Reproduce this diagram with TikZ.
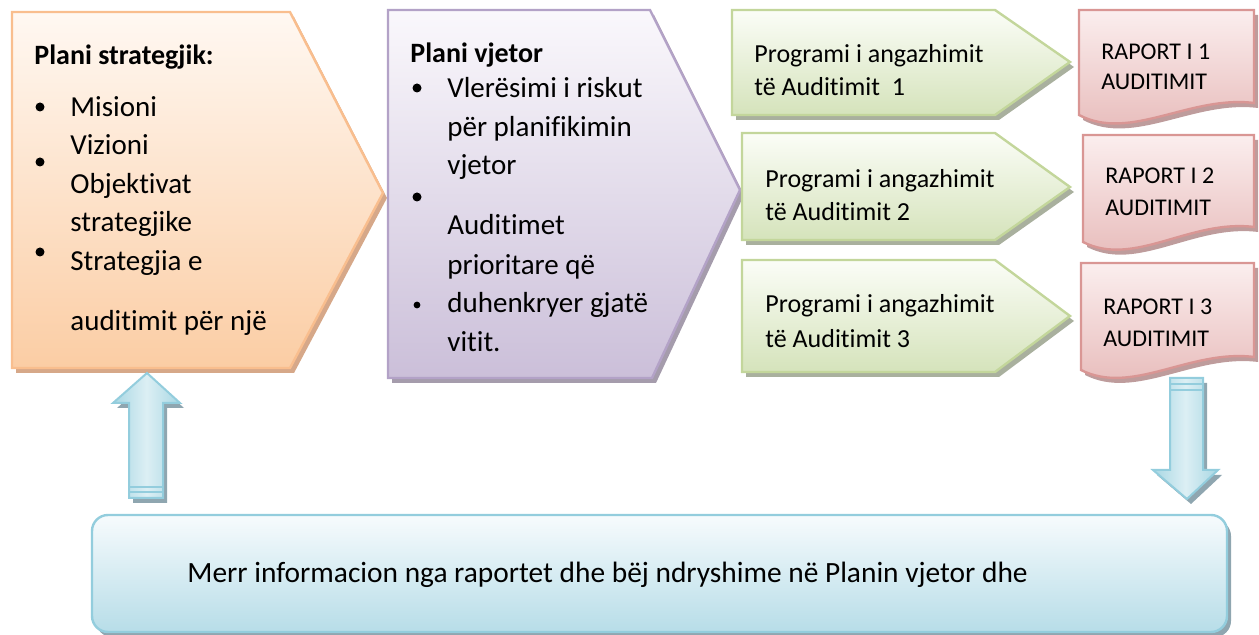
\documentclass[tikz,border=0pt]{standalone}
\usepackage{fontspec}
\setmainfont[Ligatures={NoCommon,NoRare,NoContextual}]{Carlito}
\definecolor{orTop}{HTML}{FFF8F2}
\definecolor{orBot}{HTML}{FBCDA4}
\definecolor{orLine}{HTML}{F9BE8E}
\definecolor{orSh}{HTML}{D6A889}
\definecolor{puTop}{HTML}{FAF8FC}
\definecolor{puBot}{HTML}{CBBFD9}
\definecolor{puLine}{HTML}{B3A2C7}
\definecolor{puSh}{HTML}{A59CAC}
\definecolor{grTop}{HTML}{FBFDF7}
\definecolor{grBot}{HTML}{D5E3BB}
\definecolor{grLine}{HTML}{C3D69B}
\definecolor{grSh}{HTML}{A9B09E}
\definecolor{rdTop}{HTML}{FBEEEE}
\definecolor{rdBot}{HTML}{E6B8B7}
\definecolor{rdLine}{HTML}{D99694}
\definecolor{rdSh}{HTML}{BE9C9C}
\definecolor{blTop}{HTML}{F7FBFD}
\definecolor{blBot}{HTML}{B7DDE8}
\definecolor{blLine}{HTML}{93CDDD}
\definecolor{blSh}{HTML}{8FA6B0}
\definecolor{arEdge}{HTML}{A8D7E3}
\definecolor{arMid}{HTML}{DCEFF4}
\begin{document}
\begin{tikzpicture}[x=0.5pt,y=-0.5pt,
  shape line/.style={line width=1.2pt, line join=miter},
  orng/.style={shape line, top color=orTop, bottom color=orBot, draw=orLine},
  purp/.style={shape line, top color=puTop, bottom color=puBot, draw=puLine},
  gren/.style={shape line, top color=grTop, bottom color=grBot, draw=grLine},
  redd/.style={shape line, top color=rdTop, bottom color=rdBot, draw=rdLine},
  blbox/.style={shape line, top color=blTop, bottom color=blBot, draw=blLine},
  blarrow/.style={line width=1pt, left color=arEdge, right color=arEdge, middle color=arMid, draw=blLine},
  shad/.style={fill=#1, draw=none, shift={(4,5)}},
  big/.style={anchor=base west, inner sep=0pt, font=\fontsize{14.5}{17}\selectfont},
  msgt/.style={anchor=base west, inner sep=0pt, font=\fontsize{14.7}{17}\selectfont},
  ttl/.style={anchor=base west, inner sep=0pt, font=\fontsize{14}{17}\selectfont\bfseries},
  grt/.style={anchor=base west, inner sep=0pt, font=\fontsize{13}{16}\selectfont},
  rdt/.style={anchor=base west, inner sep=0pt, font=\fontsize{12}{14}\selectfont},
  bul/.style={circle, fill=black, inner sep=0pt, minimum size=#1}
]
\useasboundingbox (0,0) rectangle (1259,635);

% ---------- orange pentagon ----------
\fill[shad=orSh] (12,12) -- (290,12) -- (383,193) -- (290,368) -- (12,368) -- cycle;
\path[orng] (12,12) -- (290,12) -- (383,193) -- (290,368) -- (12,368) -- cycle;
\node[ttl] (t1) at (34,65) {Plani strategjik:};
\node[bul=4.5pt] (ob1) at (40,107) {};
\node[bul=4.5pt] (ob2) at (40,162) {};
\node[bul=4.5pt] (ob3) at (40,252) {};
\node[big] (o1) at (70,117) {Misioni};
\node[big] (o2) at (70,155) {Vizioni};
\node[big] (o3) at (70,194) {Objektivat};
\node[big] (o4) at (70,232) {strategjike};
\node[big] (o5) at (70,271) {Strategjia e};
\node[big] (o6) at (70,331) {auditimit për një};

% ---------- purple pentagon ----------
\fill[shad=puSh] (388,10) -- (650,10) -- (740,190) -- (652,378) -- (388,378) -- cycle;
\path[purp] (388,10) -- (650,10) -- (740,190) -- (652,378) -- (388,378) -- cycle;
\node[ttl] (t2) at (410,63) {Plani vjetor};
\node[bul=4.5pt] (pb1) at (417,88) {};
\node[bul=4.5pt] (pb2) at (417,197) {};
\node[bul=3.4pt] (pb3) at (417,305) {};
\node[big] (p1) at (447,98) {Vlerësimi i riskut};
\node[big] (p2) at (447,137) {për planifikimin};
\node[big] (p3) at (447,175) {vjetor};
\node[big] (p4) at (447,235) {Auditimet};
\node[big] (p5) at (447,275) {prioritare që};
\node[big] (p6) at (447,313) {duhenkryer gjatë};
\node[big] (p7) at (447,352) {vitit.};

% ---------- green arrows ----------
\fill[shad=grSh] (732,10) -- (995,10) -- (1070,62) -- (995,115) -- (732,115) -- cycle;
\path[gren] (732,10) -- (995,10) -- (1070,62) -- (995,115) -- (732,115) -- cycle;
\fill[shad=grSh] (742,133) -- (995,133) -- (1070,187) -- (995,240) -- (742,240) -- cycle;
\path[gren] (742,133) -- (995,133) -- (1070,187) -- (995,240) -- (742,240) -- cycle;
\fill[shad=grSh] (742,260) -- (995,260) -- (1070,316) -- (995,372) -- (742,372) -- cycle;
\path[gren] (742,260) -- (995,260) -- (1070,316) -- (995,372) -- (742,372) -- cycle;
\node[grt] (g1a) at (754,63) {Programi i angazhimit};
\node[grt] (g1b) at (754,96) {të Auditimit\ \ 1};
\node[grt] (g2a) at (765,188) {Programi i angazhimit};
\node[grt] (g2b) at (765,221) {të Auditimit 2};
\node[grt] (g3a) at (765,313) {Programi i angazhimit};
\node[grt] (g3b) at (765,348) {të Auditimit 3};

% ---------- red documents ----------
\fill[shad=rdSh] (1079,10) -- (1254,10) -- (1254,103) .. controls (1190,95) and (1130,142) .. (1079,115) -- cycle;
\path[redd] (1079,10) -- (1254,10) -- (1254,103) .. controls (1190,95) and (1130,142) .. (1079,115) -- cycle;
\fill[shad=rdSh] (1083,135) -- (1254,135) -- (1254,227) .. controls (1190,219) and (1134,268) .. (1083,242) -- cycle;
\path[redd] (1083,135) -- (1254,135) -- (1254,227) .. controls (1190,219) and (1134,268) .. (1083,242) -- cycle;
\fill[shad=rdSh] (1081,263) -- (1254,263) -- (1254,357) .. controls (1190,349) and (1132,396) .. (1081,370) -- cycle;
\path[redd] (1081,263) -- (1254,263) -- (1254,357) .. controls (1190,349) and (1132,396) .. (1081,370) -- cycle;
\node[rdt] (r1a) at (1101,60) {RAPORT I 1};
\node[rdt] (r1b) at (1101,90) {AUDITIMIT};
\node[rdt] (r2a) at (1105,184) {RAPORT I 2};
\node[rdt] (r2b) at (1105,216) {AUDITIMIT};
\node[rdt] (r3a) at (1103,315) {RAPORT I 3};
\node[rdt] (r3b) at (1103,347) {AUDITIMIT};

% ---------- bottom box ----------
\fill[shad=blSh, rounded corners=8pt] (92,515) rectangle (1227,632);
\path[blbox, rounded corners=8pt] (92,515) rectangle (1227,632);
\node[msgt] (msg) at (187,583) {Merr informacion nga raportet dhe bëj ndryshime në Planin vjetor dhe};

% ---------- up arrow ----------
\fill[shad=blSh] (147,373) -- (180,403) -- (163,403) -- (163,498) -- (129,498) -- (129,403) -- (113,403) -- cycle;
\path[blarrow] (147,373) -- (180,403) -- (163,403) -- (163,498) -- (129,498) -- (129,403) -- (113,403) -- cycle;
\coordinate (ua1) at (129,487);
\coordinate (ua2) at (163,487);
\coordinate (ua3) at (129,492);
\coordinate (ua4) at (163,492);
\draw[blLine, line width=1pt] (ua1) -- (ua2);
\draw[blLine, line width=1pt] (ua3) -- (ua4);

% ---------- down arrow ----------
\fill[shad=blSh] (1170,378) -- (1203,378) -- (1203,470) -- (1218,470) -- (1187,499) -- (1153,470) -- (1170,470) -- cycle;
\path[blarrow] (1170,378) -- (1203,378) -- (1203,470) -- (1218,470) -- (1187,499) -- (1153,470) -- (1170,470) -- cycle;
\coordinate (da1) at (1170,384);
\coordinate (da2) at (1203,384);
\coordinate (da3) at (1170,390);
\coordinate (da4) at (1203,390);
\draw[blLine, line width=1pt] (da1) -- (da2);
\draw[blLine, line width=1pt] (da3) -- (da4);
\end{tikzpicture}
\end{document}
